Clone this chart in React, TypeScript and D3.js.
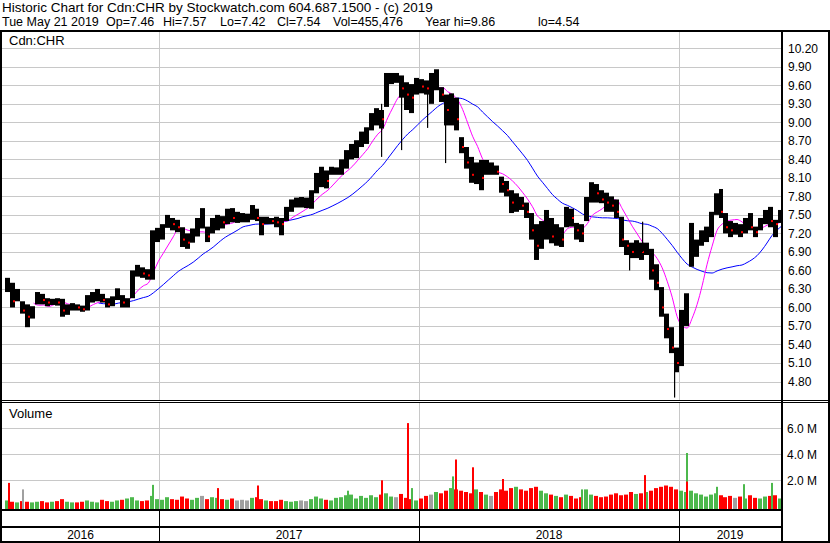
import React from "react";
import * as d3 from "d3";

// ---------- DATA (weekly) ----------
const firstWeekStart = "2016-05-30"; // Monday of first weekly bar

const weekHigh = [
  6.48, 6.40, 6.30, 6.10, 6.05, 6.02, 6.25, 6.22, 6.15, 6.14,
  6.15, 6.14, 6.05, 6.07, 6.05, 6.03, 6.20, 6.25, 6.30, 6.22,
  6.15, 6.18, 6.31, 6.20, 6.15, 6.60, 6.69, 6.65, 6.62, 7.25,
  7.29, 7.35, 7.50, 7.45, 7.42, 7.30, 7.20, 7.28, 7.45, 7.61,
  7.31, 7.45, 7.50, 7.48, 7.60, 7.61, 7.55, 7.53, 7.52, 7.66,
  7.60, 7.47, 7.47, 7.45, 7.47, 7.45, 7.63, 7.75, 7.78, 7.79,
  7.78, 7.90, 8.18, 8.28, 8.22, 8.28, 8.27, 8.40, 8.55, 8.65,
  8.71, 8.85, 8.92, 9.15, 9.23, 9.20, 9.80, 9.80, 9.80, 9.76,
  9.65, 9.62, 9.72, 9.70, 9.68, 9.80, 9.86, 9.57, 9.45, 9.47,
  9.40, 8.76, 8.60, 8.44, 8.35, 8.39, 8.39, 8.35, 8.30, 8.12,
  8.05, 7.90, 7.85, 7.79, 7.70, 7.53, 7.35, 7.40, 7.58, 7.45,
  7.35, 7.30, 7.63, 7.60, 7.37, 7.35, 7.79, 8.03, 8.00, 7.90,
  7.86, 7.80, 7.75, 7.47, 7.09, 7.05, 7.09, 7.05, 7.05, 6.95,
  6.70, 6.33, 5.90, 5.68, 5.35, 5.96, 6.23, 7.37, 7.10, 7.25,
  7.31, 7.55, 7.85, 7.92, 7.53, 7.40, 7.37, 7.35, 7.45, 7.53,
  7.31, 7.45, 7.58, 7.63, 7.42, 7.58,
];

const weekLow = [
  6.25, 6.00, 6.10, 5.90, 5.68, 5.82, 6.05, 6.05, 6.02, 6.04,
  6.03, 5.85, 5.88, 5.95, 5.95, 5.93, 5.95, 6.08, 6.10, 6.08,
  6.00, 6.02, 6.12, 6.00, 6.00, 6.15, 6.50, 6.48, 6.45, 6.45,
  7.06, 7.10, 7.29, 7.25, 7.22, 6.98, 6.95, 7.05, 7.15, 7.28,
  7.06, 7.20, 7.25, 7.28, 7.35, 7.38, 7.37, 7.38, 7.38, 7.42,
  7.40, 7.17, 7.35, 7.35, 7.30, 7.17, 7.40, 7.55, 7.62, 7.62,
  7.61, 7.60, 7.85, 7.95, 7.93, 8.15, 8.15, 8.15, 8.25, 8.40,
  8.42, 8.60, 8.65, 8.87, 8.95, 8.90, 9.25, 9.62, 9.64, 9.40,
  9.20, 9.15, 9.45, 9.47, 9.45, 9.30, 9.52, 9.33, 8.95, 8.95,
  8.87, 8.50, 8.25, 8.02, 8.00, 7.90, 8.15, 8.15, 8.15, 7.86,
  7.80, 7.53, 7.55, 7.58, 7.45, 7.10, 6.77, 6.95, 7.10, 7.04,
  7.00, 6.98, 7.30, 7.31, 7.10, 7.06, 7.40, 7.70, 7.70, 7.69,
  7.55, 7.55, 7.45, 6.98, 6.85, 6.80, 6.80, 6.77, 6.85, 6.45,
  6.28, 5.85, 5.50, 5.26, 4.95, 5.05, 5.70, 6.66, 6.82, 7.00,
  7.06, 7.14, 7.50, 7.45, 7.20, 7.14, 7.18, 7.14, 7.20, 7.25,
  7.14, 7.25, 7.35, 7.30, 7.14, 7.37,
];

const weekClose = [
  6.35, 6.10, 6.22, 5.95, 5.85, 5.95, 6.15, 6.12, 6.08, 6.10,
  6.08, 5.95, 6.00, 6.02, 6.00, 5.97, 6.12, 6.18, 6.20, 6.12,
  6.05, 6.15, 6.25, 6.08, 6.12, 6.50, 6.60, 6.55, 6.52, 7.10,
  7.20, 7.30, 7.40, 7.35, 7.30, 7.10, 7.05, 7.20, 7.35, 7.35,
  7.15, 7.35, 7.40, 7.38, 7.50, 7.45, 7.45, 7.45, 7.45, 7.55,
  7.45, 7.35, 7.42, 7.40, 7.38, 7.35, 7.55, 7.68, 7.70, 7.70,
  7.70, 7.80, 8.05, 8.10, 8.05, 8.20, 8.22, 8.30, 8.45, 8.55,
  8.60, 8.75, 8.80, 9.05, 9.10, 9.05, 9.70, 9.72, 9.72, 9.55,
  9.45, 9.40, 9.60, 9.58, 9.55, 9.55, 9.65, 9.45, 9.20, 9.30,
  9.05, 8.60, 8.35, 8.15, 8.20, 8.10, 8.25, 8.25, 8.20, 8.00,
  7.90, 7.70, 7.75, 7.65, 7.55, 7.25, 7.00, 7.30, 7.40, 7.15,
  7.20, 7.10, 7.50, 7.45, 7.25, 7.20, 7.65, 7.90, 7.85, 7.75,
  7.70, 7.65, 7.55, 7.10, 7.00, 6.90, 6.95, 6.90, 7.00, 6.60,
  6.40, 6.00, 5.65, 5.35, 5.10, 5.70, 6.20, 6.95, 7.00, 7.15,
  7.20, 7.45, 7.75, 7.55, 7.30, 7.25, 7.25, 7.22, 7.35, 7.30,
  7.22, 7.40, 7.50, 7.40, 7.35, 7.54,
];

// typical daily volume for each week, millions
const weekVolume = [
  0.45, 0.35, 0.30, 0.40, 0.35, 0.30, 0.35, 0.40, 0.30, 0.35,
  0.40, 0.55, 0.35, 0.30, 0.30, 0.35, 0.45, 0.35, 0.30, 0.50,
  0.40, 0.35, 0.45, 0.50, 0.60, 0.70, 0.45, 0.40, 0.45, 0.80,
  0.55, 0.50, 0.70, 0.55, 0.50, 0.75, 0.60, 0.50, 0.65, 0.80,
  0.55, 0.70, 0.65, 0.55, 0.50, 0.60, 0.45, 0.50, 0.45, 0.65,
  0.70, 0.55, 0.45, 0.40, 0.40, 0.50, 0.40, 0.35, 0.40, 0.45,
  0.40, 0.55, 0.75, 0.60, 0.50, 0.45, 0.65, 0.70, 0.85, 0.90,
  0.60, 0.80, 0.65, 0.85, 0.70, 0.90, 1.00, 0.75, 0.70, 0.95,
  0.65, 0.55, 0.45, 0.60, 0.80, 0.90, 1.10, 1.00, 1.20, 1.40,
  1.30, 1.20, 1.10, 1.00, 1.30, 1.10, 0.90, 0.80, 1.10, 1.30,
  1.20, 1.40, 1.50, 1.30, 1.20, 1.40, 1.50, 1.20, 1.00, 0.90,
  0.80, 0.70, 0.90, 0.80, 0.60, 0.70, 1.30, 0.90, 0.80, 0.70,
  0.75, 0.90, 1.00, 0.85, 0.90, 1.10, 0.95, 1.00, 1.10, 1.20,
  1.40, 1.50, 1.60, 1.50, 1.30, 1.20, 1.10, 1.20, 1.00, 0.90,
  0.75, 0.90, 1.00, 0.85, 0.70, 0.80, 0.65, 0.75, 0.60, 0.85,
  0.65, 0.60, 0.75, 0.80, 0.85, 0.60,
];

// single-day price extremes (wicks)
const wickDates = ["2017-11-09", "2017-12-06", "2018-01-12", "2018-02-06", "2018-10-23", "2018-11-09", "2018-12-24"];
const wickLow = [8.44, 8.55, 8.91, 8.34, 6.60, 6.90, 4.54];
const wickHigh = [9.30, 9.55, 9.50, 9.20, 6.90, 7.39, 5.05];

// single-day volume spikes, millions
const spikeDates = [
  "2016-06-03", "2016-06-23", "2016-12-22", "2017-03-24", "2017-05-19", "2017-09-22",
  "2017-11-08", "2017-12-15", "2017-12-20", "2018-02-16", "2018-02-21", "2018-03-16",
  "2018-04-27", "2018-08-16", "2018-11-12", "2019-01-10", "2019-01-11", "2019-02-22",
  "2019-04-01", "2019-05-10",
];
const spikeVolume = [1.8, 1.3, 1.65, 1.4, 1.6, 1.2, 2.0, 6.4, 1.4, 2.3, 3.6, 3.0, 2.1, 1.3, 2.4, 4.1, 1.9, 1.5, 1.7, 1.8];
const spikeDir = ["down", "flat", "up", "down", "down", "up", "down", "down", "up", "up", "down", "down", "down", "up", "down", "up", "down", "up", "up", "up"];

const priceTicks = [4.8, 5.1, 5.4, 5.7, 6.0, 6.3, 6.6, 6.9, 7.2, 7.5, 7.8, 8.1, 8.4, 8.7, 9.0, 9.3, 9.6, 9.9, 10.2];
const volumeTicks = [2, 4, 6];
const yearLabels = ["2016", "2017", "2018", "2019"];
const yearStarts = ["2017-01-01", "2018-01-01", "2019-01-01"];

const headerLine1 = "Historic Chart for Cdn:CHR by Stockwatch.com 604.687.1500 - (c) 2019";
const headerFields = ["Tue May 21 2019", "Op=7.46", "Hi=7.57", "Lo=7.42", "Cl=7.54", "Vol=455,476", "Year hi=9.86", "lo=4.54"];
const headerFieldX = [2, 106, 163, 220, 277, 333, 425, 538];

// ---------- CHART ----------
const FONT = "'Liberation Sans', Arial, sans-serif";
const GRID = "#c8c8c8";
const RED = "#ff0000";
const GREEN = "#4cb84c";
const GRAY = "#a0a0a0";

export default function App() {
  const parse = d3.timeParse("%Y-%m-%d");
  const x = d3
    .scaleTime()
    .domain([parse("2017-01-01")!, parse("2019-01-01")!])
    .range([159, 679.3]);
  const yP = d3.scaleLinear().domain([4.8, 10.2]).range([381.5, 48.3]);
  const yV = d3.scaleLinear().domain([0, 6]).range([506.3, 428.3]);

  const start = parse(firstWeekStart)!;
  const weeks = weekClose.map((c, i) => {
    const date = d3.timeDay.offset(start, 7 * i);
    const prev = i > 0 ? weekClose[i - 1] : c - 0.01;
    return { date, hi: weekHigh[i], lo: weekLow[i], close: c, vol: weekVolume[i], dir: c > prev ? "up" : c < prev ? "down" : "flat" };
  });

  const sma = (n: number) =>
    weeks.map((w, i) => (i < n - 1 ? null : (d3.mean(weekClose.slice(i - n + 1, i + 1)) as number)));
  const maShort = sma(6);
  const maLong = sma(19);
  const maLine = d3
    .line<{ d: Date; v: number | null }>()
    .defined((p) => p.v != null)
    .x((p) => x(p.d))
    .y((p) => yP(p.v as number))
    .curve(d3.curveMonotoneX);
  const maPts = (arr: (number | null)[]) => weeks.map((w, i) => ({ d: d3.timeDay.offset(w.date, 5), v: arr[i] }));

  const colorOf = (dir: string) => (dir === "up" ? GREEN : dir === "down" ? RED : GRAY);
  const fmt = d3.format(".2f");
  const years = yearStarts.map((s) => Math.round(x(parse(s)!)));
  const bounds = [2, ...years, 781];

  return (
    <svg
      width={830}
      height={543}
      style={{ position: "absolute", left: 0, top: 0, background: "#fff" }}
      fontFamily={FONT}
    >
      <rect x={0} y={0} width={830} height={543} fill="#fff" />
      {/* header */}
      <text x={2} y={12} fontSize={13.5}>{headerLine1}</text>
      {headerFields.map((f, i) => (
        <text key={"hf" + i} x={headerFieldX[i]} y={26} fontSize={12.5}>{f}</text>
      ))}

      {/* price grid */}
      {priceTicks.map((t) => (
        <line key={"pg" + t} x1={2} x2={781} y1={Math.round(yP(t)) + 0.5} y2={Math.round(yP(t)) + 0.5} stroke={GRID} />
      ))}
      {volumeTicks.map((t) => (
        <line key={"vg" + t} x1={2} x2={781} y1={Math.round(yV(t)) + 0.5} y2={Math.round(yV(t)) + 0.5} stroke={GRID} />
      ))}
      {years.map((yx) => (
        <g key={"yg" + yx}>
          <line x1={yx + 0.5} x2={yx + 0.5} y1={32} y2={400} stroke={GRID} />
          <line x1={yx + 0.5} x2={yx + 0.5} y1={403} y2={509} stroke={GRID} />
          <line x1={yx + 0.5} x2={yx + 0.5} y1={511} y2={541} stroke="#000" />
        </g>
      ))}

      {/* panel labels */}
      <text x={9} y={45} fontSize={13}>Cdn:CHR</text>
      <text x={9} y={418} fontSize={13}>Volume</text>

      {/* moving averages */}
      <path d={maLine(maPts(maLong)) || ""} fill="none" stroke="#0000ff" strokeWidth={1} />
      <path d={maLine(maPts(maShort)) || ""} fill="none" stroke="#ff00ff" strokeWidth={1} />

      {/* weekly price bars */}
      {weeks.map((w, i) => {
        const x0 = Math.round(x(w.date));
        const x1 = Math.round(x(d3.timeDay.offset(w.date, 7)));
        const y0 = yP(w.hi);
        const y1 = yP(w.lo);
        return (
          <g key={"pb" + i}>
            <rect x={x0} y={y0} width={Math.max(1, x1 - x0)} height={Math.max(1, y1 - y0)} fill="#000" />
            {w.dir === "down" && (
              <rect x={x1 - 2} y={yP(w.close) - 1} width={2} height={2} fill={RED} />
            )}
          </g>
        );
      })}
      {wickDates.map((d, i) => {
        const xx = Math.round(x(parse(d)!));
        return (
          <rect key={"wk" + i} x={xx} y={yP(wickHigh[i])} width={1.2} height={yP(wickLow[i]) - yP(wickHigh[i])} fill="#000" />
        );
      })}

      {/* volume */}
      {weeks.map((w, i) => {
        const x0 = Math.round(x(w.date));
        return <rect key={"vb" + i} x={x0} y={yV(w.vol)} width={4} height={509 - yV(w.vol)} fill={colorOf(w.dir)} />;
      })}
      {spikeDates.map((d, i) => {
        const xx = Math.round(x(parse(d)!));
        return <rect key={"vs" + i} x={xx} y={yV(spikeVolume[i])} width={2} height={509 - yV(spikeVolume[i])} fill={colorOf(spikeDir[i])} />;
      })}

      {/* frame */}
      <rect x={0} y={30} width={830} height={2} fill="#000" />
      <rect x={0} y={30} width={2} height={513} fill="#000" />
      <rect x={781} y={30} width={2} height={513} fill="#000" />
      <rect x={828} y={30} width={2} height={513} fill="#000" />
      <rect x={0} y={400} width={830} height={1} fill="#000" />
      <rect x={0} y={402} width={830} height={1} fill="#000" />
      <rect x={0} y={509} width={783} height={2} fill="#000" />
      <rect x={0} y={526} width={783} height={2} fill="#000" />
      <rect x={0} y={541} width={830} height={2} fill="#000" />

      {/* right axis labels */}
      {priceTicks.map((t) => (
        <text key={"pl" + t} x={788} y={yP(t) + 4.5} fontSize={12}>{fmt(t)}</text>
      ))}
      {volumeTicks.map((t) => (
        <text key={"vl" + t} x={787} y={yV(t) + 4.5} fontSize={12}>{t.toFixed(1) + " M"}</text>
      ))}

      {/* year labels */}
      {yearLabels.map((lab, i) => (
        <text key={lab} x={(bounds[i] + bounds[i + 1]) / 2} y={539} fontSize={12} textAnchor="middle">{lab}</text>
      ))}
    </svg>
  );
}
